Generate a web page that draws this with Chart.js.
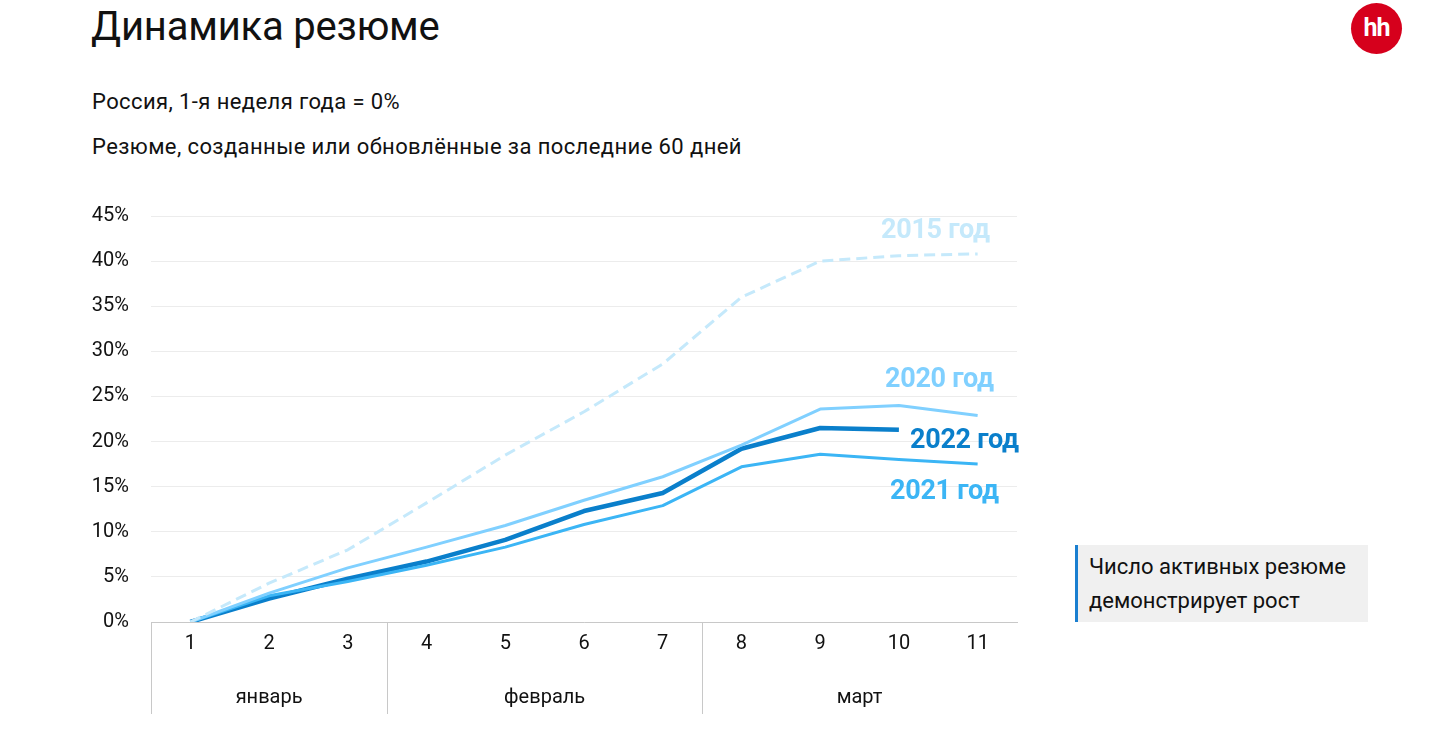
<!DOCTYPE html>
<html lang="ru">
<head>
<meta charset="utf-8">
<script src="https://cdn.jsdelivr.net/npm/chart.js@4"></script>
<style>
  html,body{margin:0;padding:0;background:#fff;width:1439px;height:752px;overflow:hidden;font-family:Roboto,"Noto Sans",sans-serif;color:#111;}
  #title{position:absolute;left:91px;top:3px;font-size:40px;font-weight:400;letter-spacing:-0.2px;}
  .sub{position:absolute;left:92px;font-size:22px;letter-spacing:0.4px;}
  #logo{position:absolute;left:1351px;top:3px;width:51px;height:51px;border-radius:50%;background:#d6001c;color:#fff;font-weight:700;font-size:25px;line-height:49px;text-align:center;letter-spacing:-1px;}
  #wrap{position:absolute;left:0;top:182px;width:1030px;height:532px;}
  .lbl{position:absolute;font-weight:700;font-size:27px;white-space:nowrap;letter-spacing:-0.3px;}
  #note{position:absolute;left:1075px;top:545px;width:293px;height:77px;background:#f0f0f0;border-left:3px solid #1a7fd0;box-sizing:border-box;padding:5px 0 0 11px;font-size:22px;line-height:34px;color:#111;}
</style>
</head>
<body>
<div id="title">Динамика резюме</div>
<div class="sub" style="top:89px">Россия, 1-я неделя года = 0%</div>
<div class="sub" style="top:134px">Резюме, созданные или обновлённые за последние 60 дней</div>
<div id="logo">hh</div>
<div id="wrap"><canvas id="c"></canvas></div>
<div class="lbl" style="left:881px;top:213px;color:#c5e9fb">2015 год</div>
<div class="lbl" style="left:885px;top:362px;color:#80d0ff">2020 год</div>
<div class="lbl" style="left:910px;top:423px;color:#0a7fcb">2022 год</div>
<div class="lbl" style="left:890px;top:474px;color:#3bb5f5">2021 год</div>
<div id="note">Число активных резюме<br>демонстрирует рост</div>
<script>
const weeks = ['1','2','3','4','5','6','7','8','9','10','11'];
const months = ['январь','февраль','март'];
const monthSpans = [3, 4, 4];
const y2015 = [0, 4.3, 8.0, 13.2, 18.5, 23.3, 28.6, 36.0, 40.0, 40.6, 40.8];
const y2020 = [0, 3.2, 6.0, 8.3, 10.7, 13.5, 16.1, 19.6, 23.6, 24.0, 22.9];
const y2021 = [0, 2.9, 4.5, 6.3, 8.3, 10.8, 12.9, 17.2, 18.6, 18.0, 17.5];
const y2022 = [0, 2.6, 4.8, 6.7, 9.1, 12.3, 14.3, 19.2, 21.5, 21.3, null];

const boundaries = [0];
monthSpans.reduce((a, n) => { boundaries.push(a + n); return a + n; }, 0);

const monthPlugin = {
  id: 'months',
  afterDraw(chart) {
    const x = chart.scales.x, ctx = chart.ctx;
    const step = x.getPixelForValue(1) - x.getPixelForValue(0);
    ctx.save();
    ctx.font = '20px Roboto';
    ctx.fillStyle = '#111';
    ctx.textAlign = 'center';
    ctx.textBaseline = 'middle';
    for (let i = 0; i < months.length; i++) {
      const a = x.getPixelForValue(boundaries[i]) - step / 2;
      const b = x.getPixelForValue(boundaries[i + 1] - 1) + step / 2;
      ctx.fillText(months[i], (a + b) / 2, chart.chartArea.bottom + 76);
    }
    ctx.restore();
  }
};

new Chart(document.getElementById('c'), {
  type: 'line',
  data: {
    labels: weeks,
    datasets: [
      {label: '2015 год', data: y2015, borderColor: '#c5e9fb', borderWidth: 3, borderDash: [11, 6]},
      {label: '2020 год', data: y2020, borderColor: '#80d0ff', borderWidth: 3},
      {label: '2021 год', data: y2021, borderColor: '#3bb5f5', borderWidth: 3},
      {label: '2022 год', data: y2022, borderColor: '#0a7fcb', borderWidth: 4.5}
    ]
  },
  options: {
    responsive: true,
    maintainAspectRatio: false,
    animation: false,
    events: [],
    layout: {padding: {top: 20, right: 13, left: 0, bottom: 0}},
    elements: {point: {radius: 0}, line: {tension: 0, borderCapStyle: 'butt', borderJoinStyle: 'round'}},
    plugins: {legend: {display: false}, tooltip: {enabled: false}},
    scales: {
      x: {
        offset: true,
        border: {display: true, color: '#c8c8c8', width: 1},
        grid: {
          offset: true,
          drawOnChartArea: false,
          drawTicks: true,
          tickLength: 92,
          color: (c) => boundaries.includes(c.index) ? '#c8c8c8' : 'rgba(0,0,0,0)',
          lineWidth: 1
        },
        ticks: {padding: -82, color: '#111', font: {family: 'Roboto', size: 20}, maxRotation: 0, autoSkip: false},
        afterFit: (s) => { s.height = 92; }
      },
      y: {
        min: 0, max: 45,
        border: {display: false},
        grid: {color: '#ececec', drawTicks: false, lineWidth: 1},
        ticks: {stepSize: 5, padding: 22, color: '#111', font: {family: 'Roboto', size: 20}, callback: (v) => v + '%'},
        afterFit: (s) => { s.width = 151; }
      }
    }
  },
  plugins: [monthPlugin]
});
</script>
</body>
</html>
